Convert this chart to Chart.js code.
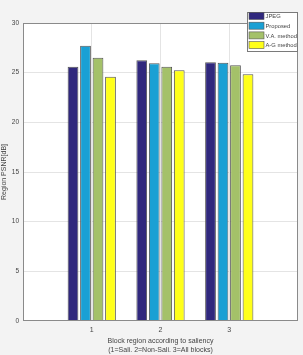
<!DOCTYPE html>
<html><head><meta charset="utf-8">
<script src="https://cdn.jsdelivr.net/npm/chart.js@4"></script>
<style>html,body{margin:0;padding:0;background:#f3f3f3;}#wrap{width:303px;height:355px;}</style>
</head><body><div id="wrap"><canvas id="c" width="303" height="355"></canvas></div>
<script>
const categories = ['0','1','2','3','4'];
const seriesNames = ['JPEG','Proposed','V.A. method','A-G method'];
const jpeg = [null, 25.6, 26.25, 26.05, null];
const proposed = [null, 27.7, 25.95, 26.0, null];
const vaMethod = [null, 26.5, 25.6, 25.75, null];
const agMethod = [null, 24.6, 25.25, 24.85, null];
const yTicks = [0,5,10,15,20,25,30];
const colors = ['#30287d','#1aa0d4','#a4c169','#ffff1a'];
const values = [jpeg, proposed, vaMethod, agMethod];

const boxPlugin = {
  id:'box',
  beforeDraw(chart){
    const {ctx, chartArea:a} = chart;
    ctx.save(); ctx.fillStyle='#ffffff'; ctx.fillRect(a.left,a.top,a.right-a.left,a.bottom-a.top); ctx.restore();
  },
  afterDraw(chart){
    const {ctx, chartArea:a} = chart;
    ctx.save();
    ctx.strokeStyle='#8a8a8a'; ctx.lineWidth=1;
    ctx.strokeRect(Math.round(a.left)+0.5, Math.round(a.top)+0.5, Math.round(a.right-a.left)-1, Math.round(a.bottom-a.top)-1);
    // legend
    const lx=247.5, ly=12.5, lw=50, lh=39;
    ctx.fillStyle='#ffffff'; ctx.fillRect(lx,ly,lw,lh);
    ctx.strokeStyle='#7a7a7a'; ctx.strokeRect(lx,ly,lw,lh);
    ctx.font='5.8px "Liberation Sans", Arial, sans-serif';
    ctx.textBaseline='middle';
    chart.data.datasets.forEach((d,i)=>{
      const cy = 16 + i*9.7;
      ctx.fillStyle=d.backgroundColor; ctx.fillRect(249, cy-3.5, 15, 7);
      ctx.strokeStyle='#555'; ctx.lineWidth=0.6; ctx.strokeRect(249, cy-3.5, 15, 7);
      ctx.fillStyle='#444'; ctx.fillText(d.label, 265.5, cy+0.5);
    });
    ctx.restore();
  }
};

new Chart(document.getElementById('c'), {
  type:'bar',
  data:{
    labels:categories,
    datasets: seriesNames.map((n,i)=>({label:n,data:values[i],backgroundColor:colors[i],borderColor:'#555555',borderWidth:1,categoryPercentage:0.727,barPercentage:0.86}))
  },
  options:{
    responsive:false, animation:false, devicePixelRatio:1,
    layout:{padding:{top:23,right:5,left:0,bottom:0}},
    plugins:{legend:{display:false},tooltip:{enabled:false}},
    scales:{
      x:{
        offset:false,
        grid:{offset:false,color:(c)=> (c.index===0||c.index===4)?'rgba(0,0,0,0)':'#e4e4e4',drawTicks:false},
        border:{display:false},
        ticks:{padding:5,color:'#444',font:{size:7,family:'"Liberation Sans", Arial, sans-serif'},maxRotation:0,autoSkip:false,
          callback:(v,i)=> (i===0||i===4)?'':categories[i]},
        title:{display:true,text:['Block region according to saliency','(1=Sali. 2=Non-Sali. 3=All blocks)'],color:'#444',font:{size:7,family:'"Liberation Sans", Arial, sans-serif',lineHeight:1.3},padding:{top:1,bottom:0}},
        afterFit:(s)=>{s.height=34;}
      },
      y:{
        min:0,max:30,
        afterBuildTicks:(s)=>{s.ticks=yTicks.map(v=>({value:v}));},
        grid:{color:(c)=> (c.tick && (c.tick.value===0||c.tick.value===30))?'rgba(0,0,0,0)':'#e4e4e4',drawTicks:false},
        border:{display:false},
        ticks:{padding:4,color:'#444',font:{size:6.5,family:'"Liberation Sans", Arial, sans-serif'}},
        title:{display:true,text:'Region PSNR[dB]',color:'#444',font:{size:7,family:'"Liberation Sans", Arial, sans-serif'},padding:{top:0,bottom:0}},
        afterFit:(s)=>{s.width=23;}
      }
    }
  },
  plugins:[boxPlugin]
});
</script></body></html>
